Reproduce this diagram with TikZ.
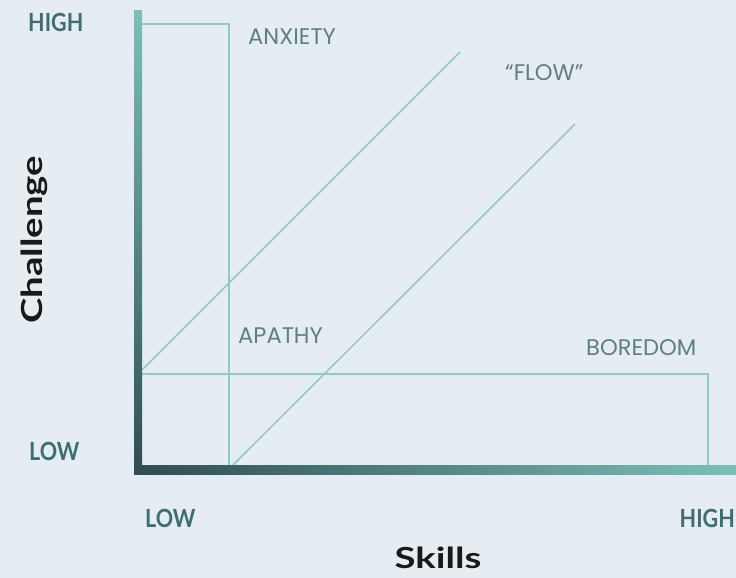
\documentclass[tikz,border=0pt]{standalone}
\usepackage{fontspec}
\setmainfont{Lato}
\newfontfamily\lblfont{Poppins}
\definecolor{bgc}{RGB}{229,237,243}
\definecolor{thinc}{RGB}{143,202,196}
\definecolor{axteal}{RGB}{123,192,184}
\definecolor{axdark}{RGB}{47,77,82}
\definecolor{lblc}{RGB}{95,128,130}
\definecolor{tickc}{RGB}{61,110,112}
\tikzset{
  region/.style={draw=thinc, line width=1.5pt},
  zonelbl/.style={font=\lblfont\fontsize{22.6}{23}\selectfont, text=lblc, inner sep=0pt},
  ticklbl/.style={font=\bfseries\fontsize{25}{25}\selectfont, text=tickc, inner sep=0pt},
  axlbl/.style={font=\bfseries\fontsize{29}{29}\selectfont, text=black!90, inner sep=0pt}
}
\newcommand{\tickw}[1]{\scalebox{0.86}[1]{#1}}
\newcommand{\titlew}[1]{\scalebox{1.32}[1]{#1}}
\begin{document}
\begin{tikzpicture}[x=1pt,y=-1pt]
\fill[bgc] (0,0) rectangle (736,578);
\useasboundingbox (0,0) rectangle (736,578);
% anchor coordinates
\coordinate (at) at (142,24);
\coordinate (ar) at (229,24);
\coordinate (ab) at (229,465);
\coordinate (bl) at (142,374);
\coordinate (br) at (708,374);
\coordinate (bb) at (708,465);
\coordinate (f1a) at (142,370);
\coordinate (f1b) at (460,52);
\coordinate (f2a) at (233,465);
\coordinate (f2b) at (575,124);
% regions
\draw[region] (at) -- (ar) -- (ab);
\draw[region] (bl) -- (br) -- (bb);
\draw[region] (f1a) -- (f1b);
\draw[region] (f2a) -- (f2b);
% axes
\shade[top color=axteal, bottom color=axdark] (134,11) rectangle (142,474);
\shade[left color=axdark, right color=axteal] (134,465) rectangle (736,474);
% zone labels
\node[zonelbl, anchor=base west] (anx) at (248,45) {ANXIETY};
\node[zonelbl, anchor=base west] (flow) at (505,81) {\textquotedblleft FLOW\textquotedblright};
\node[zonelbl, anchor=base west] (apa) at (238,343) {APATHY};
\node[zonelbl, anchor=base west] (bor) at (586,355) {BOREDOM};
% tick labels
\node[ticklbl, anchor=base west] (yhigh) at (28,32) {\tickw{HIGH}};
\node[ticklbl, anchor=base west] (ylow) at (29,460) {\tickw{LOW}};
\node[ticklbl, anchor=base west] (xlow) at (145,527) {\tickw{LOW}};
\node[ticklbl, anchor=base east] (xhigh) at (735,527) {\tickw{HIGH}};
% axis titles
\node[axlbl, anchor=base] (skills) at (438,568) {\titlew{Skills}};
\node[axlbl, anchor=base, rotate=90] (chal) at (42,240) {\titlew{Challenge}};
\end{tikzpicture}
\end{document}
